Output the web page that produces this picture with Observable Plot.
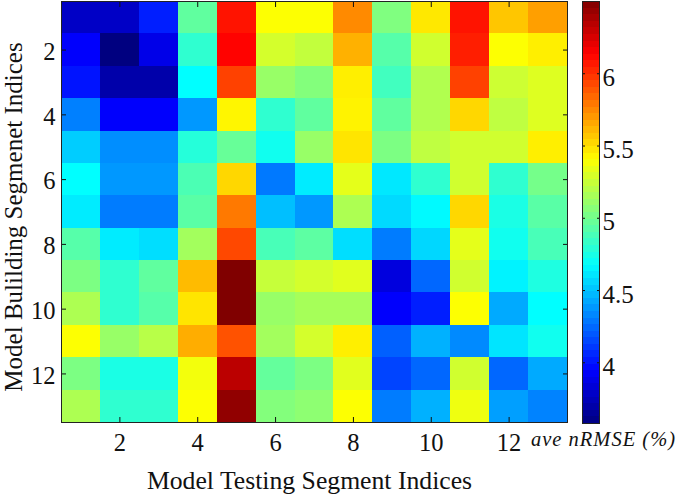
<!DOCTYPE html>
<html>
<head>
<meta charset="utf-8">
<script src="https://cdn.jsdelivr.net/npm/d3@7"></script>
<script src="https://cdn.jsdelivr.net/npm/@observablehq/plot@0.6"></script>
<style>
  body { margin: 0; background: white; }
  #chart { position: relative; width: 680px; height: 494px; overflow: hidden; font-family: "Liberation Serif", serif; }
  #chart svg { position: absolute; top: 0; background: transparent; }
  #unit { position: absolute; left: 531px; top: 428px; font-size: 20.5px; font-style: italic; letter-spacing: 1px; white-space: nowrap; color: #111; }
</style>
</head>
<body>
<div id="chart"><div id="unit">ave nRMSE (%)</div></div>
<script>
// segment indices
const segments = [1, 2, 3, 4, 5, 6, 7, 8, 9, 10, 11, 12, 13];
const tickLabels = [2, 4, 6, 8, 10, 12];

// ave nRMSE (%), one row per model building segment
const aveNrmse = [
  [3.78, 3.78, 4.03, 4.95, 6.08, 5.40, 5.40, 5.74, 5.04, 5.47, 6.08, 5.57, 5.68],
  [3.94, 3.58, 3.88, 4.81, 6.13, 5.28, 5.23, 5.63, 4.92, 5.27, 6.05, 5.40, 5.45],
  [4.00, 3.70, 3.70, 4.675, 5.95, 5.11, 5.05, 5.45, 4.86, 5.18, 5.95, 5.26, 5.31],
  [4.31, 3.94, 3.94, 4.38, 5.43, 4.81, 4.95, 5.44, 4.95, 5.18, 5.52, 5.22, 5.31],
  [4.53, 4.35, 4.35, 4.78, 4.97, 4.72, 5.11, 5.48, 5.03, 5.22, 5.27, 5.27, 5.45],
  [4.675, 4.38, 4.38, 4.89, 5.52, 4.29, 4.62, 5.33, 4.61, 4.81, 5.27, 4.81, 5.01],
  [4.62, 4.30, 4.30, 4.93, 5.79, 4.49, 4.38, 5.17, 4.57, 4.66, 5.52, 4.75, 4.93],
  [4.92, 4.62, 4.58, 5.14, 5.93, 4.88, 4.94, 4.58, 4.30, 4.56, 5.33, 4.72, 4.88],
  [5.03, 4.81, 4.95, 5.60, 6.50, 5.24, 5.28, 5.32, 3.85, 4.24, 5.27, 4.64, 4.76],
  [5.17, 4.81, 4.92, 5.48, 6.50, 5.11, 5.15, 5.15, 3.94, 4.03, 5.40, 4.43, 4.675],
  [5.40, 5.11, 5.20, 5.64, 5.90, 5.14, 5.28, 5.45, 4.22, 4.45, 4.34, 4.60, 4.72],
  [5.03, 4.75, 4.75, 5.37, 6.33, 4.96, 5.03, 5.32, 4.14, 4.24, 5.27, 4.24, 4.43],
  [5.17, 4.81, 4.81, 5.40, 6.45, 5.05, 5.08, 5.40, 4.30, 4.45, 5.36, 4.40, 4.32]
];

// jet colormap
const jetColors = ["#000080", "#0000ff", "#0080ff", "#00ffff", "#80ff80", "#ffff00", "#ff8000", "#ff0000", "#800000"];
const colorDomain = [3.58, 6.5];
const colorTicks = [4, 4.5, 5, 5.5, 6];
const colorSteps = 64;

const color = {
  type: "linear",
  domain: colorDomain,
  interpolate: d3.piecewise(d3.interpolateRgb, jetColors)
};

const table = aveNrmse.flatMap((row, i) =>
  row.map((value, j) => ({ testing: segments[j], building: segments[i], value }))
);

const serif = { fontFamily: "Liberation Serif, serif", fontSize: "25px", fontVariant: "normal", background: "transparent", color: "#111" };

let chart = Plot.plot({
  width: 570,
  height: 494,
  marginLeft: 61,
  marginRight: 3,
  marginTop: 1,
  marginBottom: 72,
  style: serif,
  color,
  x: { domain: segments, padding: 0, round: false, axis: null },
  y: { domain: segments, padding: 0, round: false, axis: null },
  marks: [
    Plot.cell(table, { x: "testing", y: "building", fill: "value", inset: 0, shapeRendering: "crispEdges" }),
    Plot.axisX(tickLabels, { anchor: "bottom", tickSize: 0, tickPadding: 11, fontSize: 24.5, label: null }),
    Plot.axisY(tickLabels, { anchor: "left", tickSize: 0, tickPadding: 6, dy: 2, fontSize: 24.5, label: null }),
    Plot.text(["Model Bulilding Segmenet Indices"], { frameAnchor: "left", textAnchor: "middle", lineAnchor: "bottom", rotate: -90, dx: -40, dy: 5, fontSize: 25 }),
    Plot.text(["Model Testing Segment Indices"], { frameAnchor: "bottom", lineAnchor: "middle", dx: -5, dy: 58, fontSize: 25.7 }),
    Plot.axisX(tickLabels, { anchor: "bottom", tickSize: -5, fill: "none", label: null }),
    Plot.axisX(tickLabels, { anchor: "top", tickSize: -5, fill: "none", label: null }),
    Plot.axisY(tickLabels, { anchor: "left", tickSize: -5, fill: "none", label: null }),
    Plot.axisY(tickLabels, { anchor: "right", tickSize: -5, fill: "none", label: null }),
    Plot.frame({ stroke: "#222" })
  ]
});

// colour bar, same scale as the cells
const span = (colorDomain[1] - colorDomain[0]) / colorSteps;
const levels = d3.range(colorSteps).map((i) => colorDomain[0] + i * span);

let bar = Plot.plot({
  width: 110,
  height: 494,
  marginLeft: 12,
  marginRight: 81,
  marginTop: 1,
  marginBottom: 71,
  style: serif,
  color,
  x: { domain: [0, 1], axis: null },
  y: { domain: colorDomain, axis: null },
  marks: [
    Plot.rect(levels, { x1: 0, x2: 1, y1: (d) => d, y2: (d) => d + span, fill: (d) => d + span / 2, shapeRendering: "crispEdges" }),
    Plot.axisY(colorTicks, { anchor: "right", tickSize: 0, tickPadding: 3, fontSize: 25, dy: 4, tickFormat: (d) => d, label: null }),
    Plot.axisY(colorTicks, { anchor: "right", tickSize: -3, fill: "none", label: null }),
    Plot.axisY(colorTicks, { anchor: "left", tickSize: -3, fill: "none", label: null }),
    Plot.frame({ stroke: "#222" })
  ]
});
bar.style.left = "570px";

d3.select("#chart").append(() => chart);
d3.select("#chart").append(() => bar);
</script>
</body>
</html>
